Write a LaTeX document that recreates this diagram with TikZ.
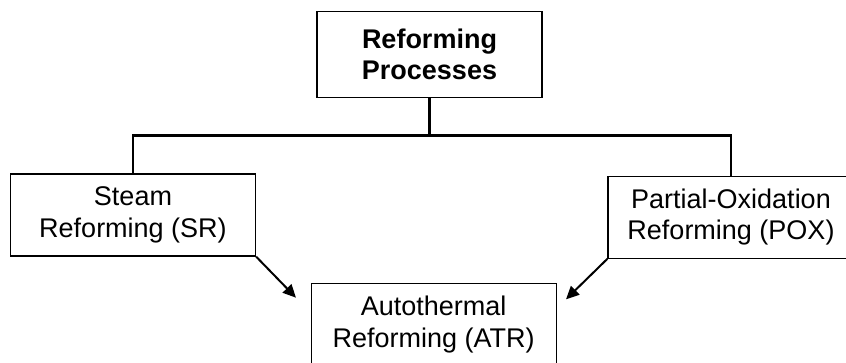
\documentclass[tikz,border=0pt]{standalone}
\usepackage{fontspec}
\setmainfont{Liberation Sans}
\usetikzlibrary{arrows.meta}
\begin{document}
\begin{tikzpicture}[x=1pt,y=-1pt,
  box/.style={draw=black, line width=1.3pt, fill=white, align=center, inner sep=0pt,
    minimum width=245pt, minimum height=82pt, font=\fontsize{27}{31.5}\selectfont},
  tree/.style={line width=2.7pt},
  arr/.style={line width=2pt, -{Triangle[length=13pt,width=12pt]}}]
\useasboundingbox (0,0) rectangle (846,363);
\fill[white] (0,0) rectangle (846,363);
\node[box, minimum width=225pt, minimum height=85.6pt,
  font=\fontsize{27}{31.5}\selectfont\bfseries] (top) at (429.5,54.5) {Reforming\\Processes};
\node[box] (sr) at (133,215) {Steam\\Reforming (SR)};
\node[box, minimum width=246pt] (pox) at (731,217.2) {Partial-Oxidation\\Reforming (POX)};
\node[box] (atr) at (433.7,324.5) {Autothermal\\Reforming (ATR)};
\coordinate (bus) at (429.5,135.5);
\coordinate (t1) at (296,297.7);
\coordinate (t2) at (566,299.3);
\draw[tree] (top.south) -- (bus);
\draw[tree] (sr.north) |- (bus) -| (pox.north);
\draw[arr] (sr.south east) -- (t1);
\draw[arr] (pox.south west) -- (t2);
\end{tikzpicture}
\end{document}
